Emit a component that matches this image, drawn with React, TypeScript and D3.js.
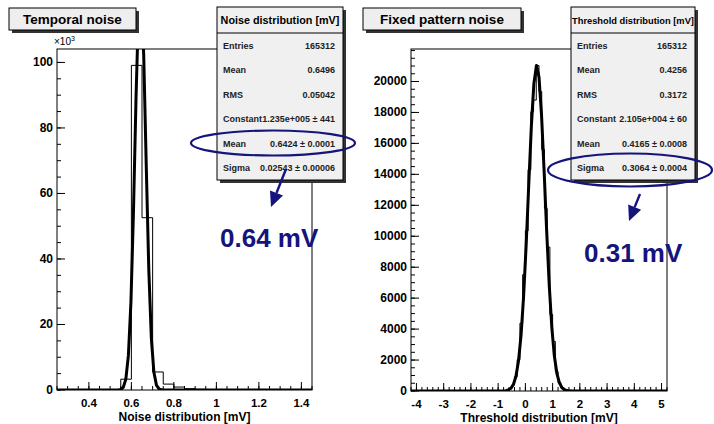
import React from 'react';
import * as d3 from 'd3';

// left histogram: noise distribution, counts in thousands, bins of 0.05 mV
const noiseBinStart = 0.55;
const noiseBinWidth = 0.05;
const noiseCounts = [3.3, 99.1, 52.6, 5.5, 1.8, 0.9, 0.4, 0.2, 0.1, 0.05];
const noiseFit = [123.5, 0.6424, 0.02543]; // constant, mean, sigma
const noiseXTicks = [0.4, 0.6, 0.8, 1, 1.2, 1.4];
const noiseYTicks = [0, 20, 40, 60, 80, 100];
const noiseStatLabels = ['Entries', 'Mean', 'RMS', 'Constant', 'Mean', 'Sigma'];
const noiseStatValues = ['165312', '0.6496', '0.05042', '1.235e+005 \u00b1 441', '0.6424 \u00b1 0.0001', '0.02543 \u00b1 0.00006'];

// right histogram: threshold distribution, bins of 0.1 mV
const thrBinStart = -1.0;
const thrBinWidth = 0.1;
const thrCounts = [1, 4, 15, 50, 148, 390, 930, 2020, 4380, 7520, 10350, 14300, 18050, 18800, 21030, 19350,
  15600, 11800, 9300, 4950, 3200, 1250, 540, 210, 75, 24, 7, 2];
const thrFit = [21050, 0.4165, 0.3064];
const thrXTicks = [-4, -3, -2, -1, 0, 1, 2, 3, 4, 5];
const thrYTicks = [0, 2000, 4000, 6000, 8000, 10000, 12000, 14000, 16000, 18000, 20000];
const thrStatLabels = ['Entries', 'Mean', 'RMS', 'Constant', 'Mean', 'Sigma'];
const thrStatValues = ['165312', '0.4256', '0.3172', '2.105e+004 \u00b1 60', '0.4165 \u00b1 0.0008', '0.3064 \u00b1 0.0004'];

const FONT = 'Liberation Sans, Arial, Helvetica, sans-serif';
const NAVY = '#14147c';

function gauss(p, x) {
  return p[0] * Math.exp(-((x - p[1]) * (x - p[1])) / (2 * p[2] * p[2]));
}

function Panel(props) {
  const { id, fx0, fx1, fy0, fy1, xDomain, yDomain, binStart, binWidth, counts, fit,
    xTicks, yTicks, xMinor, yMinor, xLabel, title, titleBox, statBox, statTitle,
    statLabels, statValues, statFont, expLabel } = props;

  const x = d3.scaleLinear().domain(xDomain).range([fx0, fx1]);
  const y = d3.scaleLinear().domain(yDomain).range([fy1, fy0]);

  // histogram outline as steps
  var pts = [[binStart, 0]];
  counts.forEach((c, i) => pts.push([binStart + i * binWidth, c]));
  pts.push([binStart + counts.length * binWidth, 0]);
  const histPath = d3.line().x(d => x(d[0])).y(d => y(d[1])).curve(d3.curveStepAfter)(pts);

  const fitPts = d3.range(101).map(i => {
    var xv = xDomain[0] + i * (xDomain[1] - xDomain[0]) / 100;
    return [xv, gauss(fit, xv)];
  });
  const fitPath = d3.line().x(d => x(d[0])).y(d => y(d[1]))(fitPts);

  const minorX = d3.range(Math.ceil(xDomain[0] / xMinor - 1e-6), Math.floor(xDomain[1] / xMinor + 1e-6) + 1)
    .map(k => k * xMinor);
  const minorY = d3.range(0, Math.floor(yDomain[1] / yMinor + 1e-6) + 1).map(k => k * yMinor);

  const [sx, sy, sw, sh] = statBox;
  const rowH = (sh - 26) / statLabels.length;

  return (
    <g>
      <defs>
        <clipPath id={id + '-clip'}>
          <rect x={fx0} y={fy0} width={fx1 - fx0} height={fy1 - fy0} />
        </clipPath>
      </defs>
      <rect x={fx0} y={fy0} width={fx1 - fx0} height={fy1 - fy0} fill="#fff" stroke="#000" strokeWidth={1} />

      {minorX.map((v, i) => (
        <line key={'mx' + i} x1={x(v)} x2={x(v)} y1={fy1} y2={fy1 - 4} stroke="#000" strokeWidth={1} />
      ))}
      {xTicks.map((v, i) => (
        <g key={'xt' + i}>
          <line x1={x(v)} x2={x(v)} y1={fy1} y2={fy1 - 8} stroke="#000" strokeWidth={1} />
          <text x={x(v)} y={fy1 + 17} textAnchor="middle" fontFamily={FONT} fontWeight="bold" fontSize={11.5}>
            {String(+v.toFixed(2))}
          </text>
        </g>
      ))}
      {minorY.map((v, i) => (
        <line key={'my' + i} x1={fx0} x2={fx0 + 4} y1={y(v)} y2={y(v)} stroke="#000" strokeWidth={1} />
      ))}
      {yTicks.map((v, i) => (
        <g key={'yt' + i}>
          <line x1={fx0} x2={fx0 + 8} y1={y(v)} y2={y(v)} stroke="#000" strokeWidth={1} />
          <text x={fx0 - 4} y={y(v) + 4} textAnchor="end" fontFamily={FONT} fontWeight="bold" fontSize={12}>
            {v}
          </text>
        </g>
      ))}
      {expLabel ? (
        <text x={fx0 - 3} y={fy0 - 4} fontFamily={FONT} fontSize={10}>
          {'\u00d710'}<tspan dy={-4} fontSize={7}>3</tspan>
        </text>
      ) : null}

      <g clipPath={'url(#' + id + '-clip)'}>
        <path d={histPath} fill="none" stroke="#000" strokeWidth={1} />
        <path d={fitPath} fill="none" stroke="#000" strokeWidth={3} strokeLinejoin="round" />
      </g>

      <text x={(fx0 + fx1) / 2} y={fy1 + 31} textAnchor="middle" fontFamily={FONT} fontWeight="bold" fontSize={12}>
        {xLabel}
      </text>

      {/* title box */}
      <rect x={titleBox[0] + 3} y={titleBox[1] + 3} width={titleBox[2]} height={titleBox[3]} fill="#333" />
      <rect x={titleBox[0]} y={titleBox[1]} width={titleBox[2]} height={titleBox[3]} fill="#eeeeee" stroke="#000" strokeWidth={1} />
      <text x={titleBox[0] + titleBox[2] / 2} y={titleBox[1] + 16} textAnchor="middle" fontFamily={FONT} fontWeight="bold" fontSize={13.5}>
        {title}
      </text>

      {/* stats box */}
      <rect x={sx + 3} y={sy + 3} width={sw} height={sh} fill="#333" />
      <rect x={sx} y={sy} width={sw} height={sh} fill="#f0f0f0" stroke="#000" strokeWidth={1} />
      <line x1={sx} x2={sx + sw} y1={sy + 26} y2={sy + 26} stroke="#000" strokeWidth={1} />
      <text x={sx + sw / 2} y={sy + 17} textAnchor="middle" fontFamily={FONT} fontWeight="bold" fontSize={statFont}>
        {statTitle}
      </text>
      {statLabels.map((l, i) => (
        <g key={'st' + i}>
          <text x={sx + 6} y={sy + 26 + rowH * (i + 0.5) + 3.5} fontFamily={FONT} fontWeight="bold" fontSize={9} fill="#222">
            {l}
          </text>
          <text x={sx + sw - 8} y={sy + 26 + rowH * (i + 0.5) + 3.5} textAnchor="end" fontFamily={FONT} fontWeight="bold" fontSize={9} fill="#222">
            {statValues[i]}
          </text>
        </g>
      ))}
    </g>
  );
}

function Arrow(props) {
  const { x1, y1, x2, y2 } = props;
  const a = Math.atan2(y2 - y1, x2 - x1);
  const len = 15, half = 7;
  const bx = x2 - len * Math.cos(a), by = y2 - len * Math.sin(a);
  const head = [
    [x2, y2],
    [bx + half * Math.sin(a), by - half * Math.cos(a)],
    [bx - half * Math.sin(a), by + half * Math.cos(a)],
  ];
  return (
    <g>
      <line x1={x1} y1={y1} x2={bx} y2={by} stroke={NAVY} strokeWidth={2.4} />
      <polygon points={head.map(p => p.join(',')).join(' ')} fill={NAVY} />
    </g>
  );
}

export default function App() {
  return (
    <svg width={714} height={424} style={{ position: 'absolute', left: 0, top: 0, background: '#fff' }}>
      <rect x={0} y={0} width={714} height={424} fill="#fff" />
      <Panel id="noise" fx0={57} fx1={312} fy0={49} fy1={390}
        xDomain={[0.25, 1.45]} yDomain={[0, 104.1]}
        binStart={noiseBinStart} binWidth={noiseBinWidth} counts={noiseCounts} fit={noiseFit}
        xTicks={noiseXTicks} yTicks={noiseYTicks} xMinor={0.05} yMinor={5}
        xLabel="Noise distribution [mV]" title="Temporal noise" titleBox={[9, 8, 127, 22]}
        statBox={[217, 7, 126, 173]} statTitle="Noise distribution [mV]" statFont={10.8}
        statLabels={noiseStatLabels} statValues={noiseStatValues} expLabel={true} />
      <Panel id="thr" fx0={411} fx1={667} fy0={49} fy1={391}
        xDomain={[-4.2, 5.2]} yDomain={[0, 22100]}
        binStart={thrBinStart} binWidth={thrBinWidth} counts={thrCounts} fit={thrFit}
        xTicks={thrXTicks} yTicks={thrYTicks} xMinor={0.2} yMinor={500}
        xLabel="Threshold distribution [mV]" title="Fixed pattern noise" titleBox={[363, 8, 158, 22]}
        statBox={[571, 7, 124, 173]} statTitle="Threshold distribution [mV]" statFont={9.3}
        statLabels={thrStatLabels} statValues={thrStatValues} expLabel={false} />

      {/* annotations */}
      <ellipse cx={273} cy={143} rx={82} ry={12.5} fill="none" stroke={NAVY} strokeWidth={2.2} />
      <Arrow x1={286} y1={169} x2={271} y2={207} />
      <text x={220} y={247} fontFamily={FONT} fontWeight="bold" fontSize={26} fill={NAVY}>0.64 mV</text>

      <ellipse cx={630} cy={170} rx={82} ry={16.5} fill="none" stroke={NAVY} strokeWidth={2.2} />
      <Arrow x1={640} y1={194} x2={629} y2={221} />
      <text x={584} y={262} fontFamily={FONT} fontWeight="bold" fontSize={26} fill={NAVY}>0.31 mV</text>
    </svg>
  );
}
